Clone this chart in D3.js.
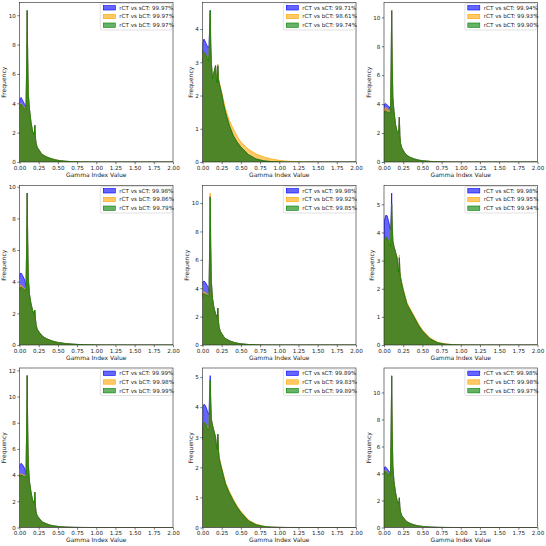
<!DOCTYPE html>
<html>
<head>
<meta charset="utf-8">
<script src="https://cdn.jsdelivr.net/npm/d3@7"></script>
<style>
  html, body { margin: 0; padding: 0; background: #fff; }
  svg { display: block; font-family: "DejaVu Sans", sans-serif; }
</style>
</head>
<body>
<svg id="chart" width="546" height="546"></svg>
<script>
// ---- Data ----
const gammaGrid = [0, 0.005, 0.02, 0.04, 0.06, 0.075, 0.085, 0.093, 0.1, 0.107, 0.115, 0.13, 0.15, 0.17, 0.185, 0.193, 0.2, 0.207, 0.215, 0.23, 0.25, 0.275, 0.3, 0.35, 0.4, 0.45, 0.5, 0.6, 0.7, 0.8, 0.9, 1.0, 1.1, 1.25, 1.5, 2.0];

const seriesNames = ["rCT vs sCT", "rCT vs bCT", "rCT vs bCT"];
const seriesColors = ["#0000ff", "#ffa500", "#008000"];
const xTicks = [0, 0.25, 0.5, 0.75, 1.0, 1.25, 1.5, 1.75, 2.0];

const passRates = [
  [99.97, 99.97, 99.97],
  [99.71, 98.61, 99.74],
  [99.94, 99.93, 99.90],
  [99.98, 99.86, 99.79],
  [99.98, 99.92, 99.85],
  [99.98, 99.95, 99.94],
  [99.99, 99.98, 99.99],
  [99.89, 99.83, 99.89],
  [99.98, 99.98, 99.97]
];

const p1_sCT  = [4.0,4.3,4.4,4.2,4.0,3.9,3.7,6.5,10.3, 7.0,4.6,3.6,2.7,2.1,1.9,2.0,2.5,1.7,1.3,1.0,0.85,0.65,0.5,0.35,0.25,0.17,0.11,0.05,0.02,0.008,0.003,0.001,0,0,0,0];
const p1_bCTa = [3.6,3.9,4.0,3.85,3.75,3.65,3.6,6.5,10.3, 7.0,4.6,3.6,2.7,2.1,1.9,2.0,2.5,1.7,1.3,1.0,0.86,0.66,0.51,0.36,0.26,0.18,0.12,0.055,0.022,0.009,0.003,0.001,0,0,0,0];
const p1_bCTb = [3.6,3.85,3.95,3.8,3.7,3.6,3.55,6.5,10.35, 7.0,4.6,3.6,2.7,2.1,1.9,2.0,2.5,1.7,1.3,1.0,0.85,0.65,0.5,0.35,0.25,0.17,0.11,0.05,0.02,0.008,0.003,0.001,0,0,0,0];

const p2_sCT  = [3.3,3.6,3.7,3.6,3.5,3.45,3.5,4.0,4.55, 3.6,3.0,2.5,2.7,2.9,2.4,2.4,2.9,2.5,2.4,2.25,2.05,1.75,1.5,1.1,0.8,0.6,0.45,0.22,0.09,0.035,0.012,0.004,0.001,0,0,0];
const p2_bCTa = [3.0,3.3,3.3,3.25,3.1,3.05,3.2,3.9,4.5, 3.6,3.0,2.5,2.7,2.9,2.45,2.45,2.95,2.55,2.45,2.3,2.1,1.85,1.6,1.25,1.0,0.78,0.6,0.38,0.24,0.15,0.09,0.05,0.025,0.008,0.001,0];
const p2_bCTb = [3.0,3.35,3.3,3.25,3.1,3.05,3.2,4.0,4.57, 3.6,3.0,2.5,2.7,2.9,2.4,2.4,2.9,2.5,2.4,2.25,2.05,1.75,1.5,1.1,0.8,0.6,0.45,0.22,0.09,0.035,0.012,0.004,0.001,0,0,0];

const p3_sCT  = [3.8,4.0,4.05,3.95,3.85,3.8,3.6,6.6,10.5, 7.0,4.5,3.5,2.6,2.1,2.0,2.3,3.1,1.8,1.3,1.0,0.8,0.6,0.45,0.3,0.2,0.13,0.09,0.04,0.015,0.005,0.002,0.001,0,0,0,0];
const p3_bCTa = [3.5,3.7,3.75,3.7,3.6,3.55,3.5,6.6,10.5, 7.0,4.5,3.5,2.6,2.1,2.0,2.3,3.1,1.8,1.3,1.0,0.8,0.6,0.45,0.3,0.2,0.13,0.09,0.04,0.015,0.005,0.002,0.001,0,0,0,0];
const p3_bCTb = [3.3,3.5,3.5,3.45,3.4,3.4,3.4,6.6,10.45, 7.0,4.5,3.5,2.6,2.1,2.0,2.3,3.1,1.8,1.3,1.0,0.8,0.6,0.45,0.3,0.2,0.13,0.09,0.04,0.015,0.005,0.002,0.001,0,0,0,0];

const p4_sCT  = [4.2,4.5,4.55,4.4,4.2,4.0,3.7,6.2,9.6, 6.5,4.2,3.2,2.6,2.2,2.0,2.1,2.2,1.7,1.3,1.0,0.85,0.7,0.55,0.4,0.3,0.22,0.16,0.09,0.05,0.025,0.012,0.006,0.002,0,0,0];
const p4_bCTa = [3.5,3.75,3.8,3.7,3.6,3.5,3.5,6.2,9.55, 6.5,4.2,3.2,2.6,2.2,2.0,2.1,2.2,1.7,1.3,1.0,0.85,0.7,0.55,0.4,0.3,0.22,0.16,0.09,0.05,0.025,0.012,0.006,0.002,0,0,0];
const p4_bCTb = [3.4,3.6,3.65,3.6,3.5,3.45,3.45,6.2,9.6, 6.5,4.2,3.2,2.6,2.2,2.0,2.1,2.2,1.7,1.3,1.0,0.85,0.7,0.55,0.4,0.3,0.22,0.16,0.09,0.05,0.025,0.012,0.006,0.002,0,0,0];

const p5_sCT  = [4.2,4.45,4.5,4.4,4.2,4.1,3.7,6.8,10.5, 7.0,4.5,3.3,2.6,2.2,2.0,2.0,2.6,1.7,1.3,1.0,0.8,0.6,0.45,0.3,0.2,0.13,0.08,0.035,0.012,0.004,0.001,0,0,0,0,0];
const p5_bCTa = [3.4,3.7,3.75,3.7,3.6,3.5,3.5,6.9,10.7, 7.0,4.5,3.3,2.6,2.2,2.0,2.0,2.6,1.7,1.3,1.0,0.8,0.6,0.45,0.3,0.2,0.13,0.08,0.035,0.012,0.004,0.001,0,0,0,0,0];
const p5_bCTb = [3.3,3.6,3.6,3.55,3.5,3.45,3.45,6.8,10.4, 7.0,4.5,3.3,2.6,2.2,2.0,2.0,2.6,1.7,1.3,1.0,0.8,0.6,0.45,0.3,0.2,0.13,0.08,0.035,0.012,0.004,0.001,0,0,0,0,0];

const p6_sCT  = [2.8,4.4,4.6,4.6,4.4,4.2,4.1,4.6,5.4, 4.3,3.7,3.5,3.3,3.1,2.7,2.6,3.1,2.6,2.4,2.2,1.95,1.7,1.45,1.2,0.95,0.7,0.5,0.22,0.08,0.03,0.01,0.003,0.001,0,0,0];
const p6_bCTa = [3.0,3.7,3.85,3.8,3.7,3.6,3.5,4.3,5.0, 4.3,3.7,3.5,3.3,3.1,2.7,2.65,3.2,2.65,2.45,2.25,2.0,1.75,1.5,1.25,1.0,0.75,0.54,0.25,0.1,0.04,0.014,0.005,0.001,0,0,0];
const p6_bCTb = [3.0,3.7,3.85,3.8,3.7,3.55,3.5,4.3,5.0, 4.3,3.7,3.5,3.3,3.1,2.7,2.6,3.1,2.6,2.4,2.2,1.95,1.7,1.45,1.2,0.95,0.7,0.5,0.22,0.08,0.03,0.01,0.003,0.001,0,0,0];

const p7_sCT  = [4.5,4.8,4.9,4.8,4.6,4.4,4.1,7.5,11.6, 7.5,4.8,3.5,2.7,2.1,1.9,1.9,2.7,1.7,1.2,0.9,0.75,0.55,0.42,0.28,0.18,0.12,0.08,0.035,0.012,0.004,0.001,0,0,0,0,0];
const p7_bCTa = [3.9,4.05,4.1,4.05,4.0,3.9,3.9,7.5,11.6, 7.5,4.8,3.5,2.7,2.1,1.9,1.9,2.7,1.7,1.2,0.9,0.75,0.55,0.42,0.28,0.18,0.12,0.08,0.035,0.012,0.004,0.001,0,0,0,0,0];
const p7_bCTb = [3.8,4.0,4.0,3.95,3.9,3.85,3.85,7.5,11.6, 7.5,4.8,3.5,2.7,2.1,1.9,1.9,2.7,1.7,1.2,0.9,0.75,0.55,0.42,0.28,0.18,0.12,0.08,0.035,0.012,0.004,0.001,0,0,0,0,0];

const p8_sCT  = [3.0,4.0,4.1,4.05,3.9,3.8,3.75,4.5,5.05, 4.2,3.6,3.4,3.2,3.0,2.65,2.6,3.1,2.6,2.35,2.15,1.95,1.7,1.45,1.15,0.9,0.68,0.5,0.22,0.09,0.035,0.012,0.004,0.001,0,0,0];
const p8_bCTa = [2.9,3.45,3.5,3.45,3.35,3.3,3.35,4.3,4.85, 4.2,3.6,3.4,3.2,3.0,2.65,2.6,3.1,2.6,2.38,2.2,2.0,1.75,1.5,1.2,0.95,0.72,0.54,0.25,0.11,0.045,0.016,0.006,0.002,0,0,0];
const p8_bCTb = [2.9,3.45,3.5,3.45,3.3,3.25,3.3,4.3,4.9, 4.2,3.6,3.4,3.2,3.0,2.65,2.6,3.1,2.6,2.35,2.15,1.95,1.7,1.45,1.15,0.9,0.68,0.5,0.22,0.09,0.035,0.012,0.004,0.001,0,0,0];

const p9_sCT  = [4.2,4.45,4.5,4.35,4.2,4.1,3.9,7.2,11.2, 7.2,4.6,3.4,2.6,2.0,1.8,1.8,2.2,1.5,1.15,0.9,0.75,0.55,0.42,0.28,0.18,0.12,0.08,0.035,0.012,0.004,0.001,0,0,0,0,0];
const p9_bCTa = [4.0,4.2,4.2,4.1,4.0,3.95,3.85,7.2,11.2, 7.2,4.6,3.4,2.6,2.0,1.8,1.8,2.2,1.5,1.15,0.9,0.75,0.55,0.42,0.28,0.18,0.12,0.08,0.035,0.012,0.004,0.001,0,0,0,0,0];
const p9_bCTb = [3.95,4.15,4.15,4.05,3.95,3.9,3.85,7.2,11.25, 7.2,4.6,3.4,2.6,2.0,1.8,1.8,2.2,1.5,1.15,0.9,0.75,0.55,0.42,0.28,0.18,0.12,0.08,0.035,0.012,0.004,0.001,0,0,0,0,0];

const panelSeries = [
  [p1_sCT, p1_bCTa, p1_bCTb],
  [p2_sCT, p2_bCTa, p2_bCTb],
  [p3_sCT, p3_bCTa, p3_bCTb],
  [p4_sCT, p4_bCTa, p4_bCTb],
  [p5_sCT, p5_bCTa, p5_bCTb],
  [p6_sCT, p6_bCTa, p6_bCTb],
  [p7_sCT, p7_bCTa, p7_bCTb],
  [p8_sCT, p8_bCTa, p8_bCTb],
  [p9_sCT, p9_bCTa, p9_bCTb]
];

// ---- Layout ----
const colLeft = [19.5, 202.5, 384];
const rowTop = [2.5, 185.5, 368];
const axW = 153.5, axH = 159.5;
const fillAlpha = 0.6;

const svg = d3.select("#chart");

panelSeries.forEach((series, pi) => {
  const col = pi % 3, row = Math.floor(pi / 3);
  const g = svg.append("g").attr("transform", `translate(${colLeft[col]},${rowTop[row]})`);

  const x = d3.scaleLinear().domain([0, 2]).range([0, axW]);
  const ymaxData = d3.max(series, s => d3.max(s));
  const y = d3.scaleLinear().domain([0, ymaxData * 1.05]).range([axH, 0]);

  const clipId = "clip" + pi;
  g.append("clipPath").attr("id", clipId).append("rect").attr("width", axW).attr("height", axH);

  const area = d3.area().x((d, i) => x(gammaGrid[i])).y0(y(0)).y1(d => y(d));
  const line = d3.line().x((d, i) => x(gammaGrid[i])).y(d => y(d));

  const plot = g.append("g").attr("clip-path", `url(#${clipId})`);
  series.forEach((s, si) => {
    plot.append("path").datum(s).attr("d", area)
      .attr("fill", seriesColors[si]).attr("fill-opacity", fillAlpha).attr("stroke", "none");
    plot.append("path").datum(s).attr("d", line)
      .attr("fill", "none").attr("stroke", seriesColors[si]).attr("stroke-width", 0.7)
      .attr("stroke-linejoin", "round");
  });

  // axes
  const xAxis = d3.axisBottom(x).tickValues(xTicks).tickFormat(d3.format(".2f")).tickSize(2.2).tickPadding(1.5);
  const gx = g.append("g").attr("transform", `translate(0,${axH})`).call(xAxis);
  const yAxis = d3.axisLeft(y).ticks(6).tickFormat(d3.format("d")).tickSize(2.2).tickPadding(1.5);
  const gy = g.append("g").call(yAxis);
  [gx, gy].forEach(a => {
    a.select(".domain").remove();
    a.selectAll(".tick line").attr("stroke", "#222").attr("stroke-width", 0.6);
    a.selectAll(".tick text").attr("font-size", 5.6).attr("fill", "#222")
      .attr("font-family", "DejaVu Sans, sans-serif");
  });

  // frame
  g.append("rect").attr("width", axW).attr("height", axH)
    .attr("fill", "none").attr("stroke", "#222").attr("stroke-width", 0.6);

  // labels
  g.append("text").attr("x", axW / 2).attr("y", axH + 14.5)
    .attr("text-anchor", "middle").attr("font-size", 6).attr("fill", "#222")
    .text("Gamma Index Value");
  const tickW = d3.max(gy.selectAll(".tick text").nodes(), n => n.getBBox().width);
  g.append("text")
    .attr("transform", `translate(${-tickW - 5.8},${axH / 2}) rotate(-90)`)
    .attr("text-anchor", "middle").attr("font-size", 6).attr("fill", "#222")
    .text("Frequency");

  // legend
  const lgW = 71.5, lgH = 26.5;
  const lg = g.append("g").attr("transform", `translate(${axW - lgW - 1.2},${1})`);
  lg.append("rect").attr("width", lgW).attr("height", lgH).attr("rx", 1.5)
    .attr("fill", "#fff").attr("fill-opacity", 0.8).attr("stroke", "#ccc").attr("stroke-width", 0.6);
  seriesNames.forEach((name, si) => {
    const cy = 4.3 + si * 8.7;
    lg.append("rect").attr("x", 3).attr("y", cy - 2.2).attr("width", 12).attr("height", 4.4)
      .attr("fill", seriesColors[si]).attr("fill-opacity", fillAlpha)
      .attr("stroke", seriesColors[si]).attr("stroke-width", 0.6);
    lg.append("text").attr("x", 19).attr("y", cy).attr("dy", "0.35em")
      .attr("font-size", 5.6).attr("fill", "#222")
      .text(`${name}: ${passRates[pi][si].toFixed(2)}%`);
  });
});
</script>
</body>
</html>
